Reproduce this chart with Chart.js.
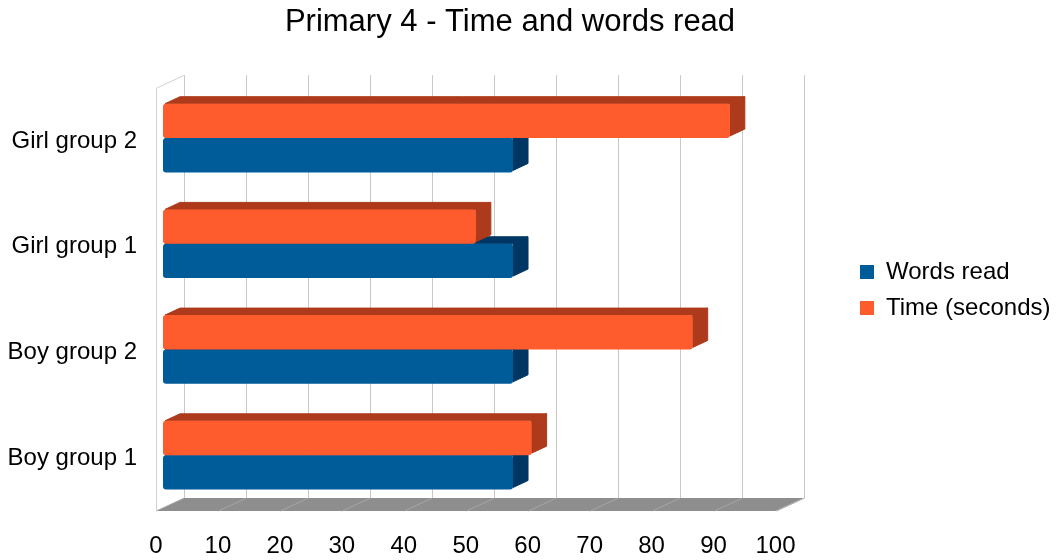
<!DOCTYPE html>
<html>
<head>
<meta charset="utf-8">
<title>Primary 4 - Time and words read</title>
<script src="https://cdn.jsdelivr.net/npm/chart.js@4.4.1/dist/chart.umd.min.js"></script>
<style>
  html, body { margin: 0; padding: 0; background: #fff; }
  #wrap { width: 1057px; height: 560px; }
</style>
</head>
<body>
<div id="wrap"><canvas id="readingChart"></canvas></div>
<script>
const groups = ["Boy group 1", "Boy group 2", "Girl group 1", "Girl group 2"];
const wordsRead = [56.5, 56.5, 56.5, 56.5];
const timeSeconds = [59.5, 85.5, 50.5, 91.5];
const valueTicks = [0, 10, 20, 30, 40, 50, 60, 70, 80, 90, 100];

const FONT = "'Liberation Sans', Arial, sans-serif";

// fake 3D: back wall offset, bar plane offset, bar thickness
const WALL = { dx: 28, dy: -13 };
const BAR_SHIFT = { dx: 7, dy: -3 };
const BAR_DEPTH = { dx: 15, dy: -7 };

const sideColors = ["#ad3a1a", "#003664"];

const depthPlugin = {
  id: "depth3d",
  afterLayout(chart) {
    const legend = chart.legend;
    if (legend) {
      const shift = 860 - (legend.left + legend.options.labels.padding);
      legend.left += shift;
      legend.right += shift;
      legend.top += 10;
      legend.bottom += 10;
    }
    const title = chart.titleBlock;
    if (title) {
      title.left = 0;
      title.right = 1020;
    }
  },
  beforeDatasetsDraw(chart) {
    const { ctx, chartArea: area, scales: { x } } = chart;
    const x0 = x.getPixelForValue(valueTicks[0]);
    const x1 = x.getPixelForValue(valueTicks[valueTicks.length - 1]);

    ctx.save();
    // floor
    ctx.fillStyle = "#8e8e8e";
    ctx.beginPath();
    ctx.moveTo(x0, area.bottom);
    ctx.lineTo(x1, area.bottom);
    ctx.lineTo(x1 + WALL.dx, area.bottom + WALL.dy);
    ctx.lineTo(x0 + WALL.dx, area.bottom + WALL.dy);
    ctx.closePath();
    ctx.fill();

    ctx.lineWidth = 1;
    x.ticks.forEach(tick => {
      const px = Math.round(x.getPixelForValue(tick.value)) + 0.5;
      ctx.strokeStyle = "#a6a6a6";
      ctx.beginPath();
      ctx.moveTo(px, area.bottom);
      ctx.lineTo(px + WALL.dx, area.bottom + WALL.dy);
      ctx.stroke();
      ctx.strokeStyle = "#c8c8c8";
      ctx.beginPath();
      ctx.moveTo(px + WALL.dx, area.top + WALL.dy);
      ctx.lineTo(px + WALL.dx, area.bottom + WALL.dy);
      ctx.stroke();
    });

    // left wall outline
    ctx.strokeStyle = "#d2d2d2";
    ctx.beginPath();
    ctx.moveTo(Math.round(x0) + 0.5, area.bottom);
    ctx.lineTo(Math.round(x0) + 0.5, area.top);
    ctx.lineTo(Math.round(x0) + 0.5 + WALL.dx, area.top + WALL.dy);
    ctx.stroke();
    ctx.restore();

    // bars are drawn a bit inside the box; restored in afterDatasetsDraw
    ctx.save();
    ctx.translate(BAR_SHIFT.dx, BAR_SHIFT.dy);
    ctx.lineJoin = "round";
    ctx.lineWidth = 1;
    for (let i = 0; i < groups.length; i++) {
      [1, 0].forEach(di => {
        const meta = chart.getDatasetMeta(di);
        const bar = meta.data[i];
        if (!bar) return;
        const p = bar.getProps(["x", "y", "base", "height"], true);
        const left = Math.min(p.base, p.x);
        const right = Math.max(p.base, p.x);
        const top = p.y - p.height / 2;
        const bottom = p.y + p.height / 2;
        ctx.fillStyle = sideColors[di];
        ctx.strokeStyle = sideColors[di];
        // top face
        ctx.beginPath();
        ctx.moveTo(left + 2, top);
        ctx.lineTo(right, top);
        ctx.lineTo(right + BAR_DEPTH.dx, top + BAR_DEPTH.dy);
        ctx.lineTo(left + 2 + BAR_DEPTH.dx, top + BAR_DEPTH.dy);
        ctx.closePath();
        ctx.fill();
        ctx.stroke();
        // right face
        ctx.beginPath();
        ctx.moveTo(right, top);
        ctx.lineTo(right + BAR_DEPTH.dx, top + BAR_DEPTH.dy);
        ctx.lineTo(right + BAR_DEPTH.dx, bottom + BAR_DEPTH.dy - 2);
        ctx.lineTo(right, bottom - 2);
        ctx.closePath();
        ctx.fill();
        ctx.stroke();
      });
    }
  },
  afterDatasetsDraw(chart) {
    chart.ctx.restore();
  }
};

const ctx = document.getElementById("readingChart");
new Chart(ctx, {
  type: "bar",
  data: {
    labels: groups,
    datasets: [
      {
        label: "Time (seconds)",
        data: timeSeconds,
        backgroundColor: "#ff5c2d",
        borderWidth: 0,
        borderRadius: 3,
        borderSkipped: false,
        clip: false
      },
      {
        label: "Words read",
        data: wordsRead,
        backgroundColor: "#005b99",
        borderWidth: 0,
        borderRadius: 3,
        borderSkipped: false,
        clip: false
      }
    ]
  },
  options: {
    indexAxis: "y",
    responsive: true,
    maintainAspectRatio: false,
    animation: false,
    devicePixelRatio: 1,
    categoryPercentage: 0.65,
    barPercentage: 1,
    layout: {
      padding: { left: 0, right: 69, top: 0, bottom: 0 }
    },
    plugins: {
      title: {
        display: true,
        text: "Primary 4 - Time and words read",
        color: "#000",
        font: { family: FONT, size: 31, weight: "normal" },
        padding: { top: 4, bottom: 47 }
      },
      legend: {
        position: "right",
        reverse: true,
        labels: {
          color: "#000",
          font: { family: FONT, size: 24 },
          boxWidth: 14,
          boxHeight: 14,
          padding: 12
        }
      },
      tooltip: { enabled: false }
    },
    scales: {
      x: {
        min: 0,
        max: 100,
        afterBuildTicks(scale) {
          scale.ticks = valueTicks.map(v => ({ value: v }));
        },
        afterFit(scale) {
          scale.height = 49;
        },
        grid: { display: false, drawTicks: false },
        border: { display: false },
        ticks: {
          color: "#000",
          font: { family: FONT, size: 24 },
          padding: 21,
          maxRotation: 0
        }
      },
      y: {
        reverse: true,
        afterFit(scale) {
          scale.width = 156;
        },
        grid: { display: false, drawTicks: false },
        border: { display: false },
        ticks: {
          color: "#000",
          font: { family: FONT, size: 24 },
          padding: 19
        }
      }
    }
  },
  plugins: [depthPlugin]
});
</script>
</body>
</html>
